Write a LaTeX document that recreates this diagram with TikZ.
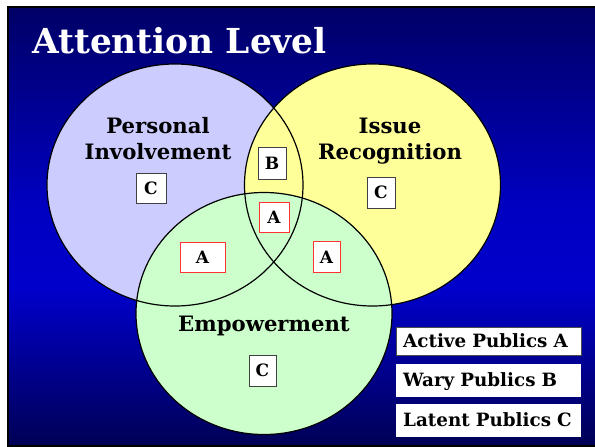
\documentclass[tikz,border=0pt]{standalone}
\usepackage{fontspec}
\setmainfont{DejaVu Serif}
\usetikzlibrary{shapes.geometric}

\definecolor{navytop}{HTML}{000066}
\definecolor{navybot}{HTML}{000055}
\definecolor{slideblue}{HTML}{0000CC}
\definecolor{setP}{HTML}{CCCCFF}
\definecolor{setI}{HTML}{FFFF99}
\definecolor{setE}{HTML}{CCFFCC}
\definecolor{boxred}{HTML}{FF3333}

\pgfdeclareverticalshading{slidebg}{100bp}{color(0bp)=(navybot); color(25bp)=(navybot);
  color(43bp)=(slideblue); color(52bp)=(slideblue!95!black); color(75bp)=(navytop); color(100bp)=(navytop)}

\tikzset{
  vset/.style={ellipse, minimum width=256pt, minimum height=242pt, inner sep=0pt},
  setname/.style={font=\bfseries\fontsize{21.2}{26}\selectfont, align=center, inner sep=0pt},
  letterbox/.style={draw=black!75, fill=white, inner sep=0pt, text height=12.5pt, text depth=0pt,
    font=\bfseries\fontsize{17}{17}\selectfont},
  activebox/.style={letterbox, draw=boxred},
  legendbox/.style={fill=white, anchor=west, inner xsep=7pt, text width=171pt, align=left,
    text height=12.5pt, text depth=0pt, font=\bfseries\fontsize{18.3}{19}\selectfont}
}

\begin{document}
\begin{tikzpicture}
    \def\x{1pt}
    \def\y{-1pt}
    \useasboundingbox [fill=white] (0*\x, 0*\y) rectangle (595*\x, 447*\y);
    \shadedraw [shading=slidebg, draw=black, line width=2pt] (8*\x, 7*\y) rectangle (597*\x, 446*\y);
    \node [anchor=base west, inner sep=0pt, text=white, font=\bfseries\fontsize{34.4}{38}\selectfont]
      (T0_0) at (32*\x, 53*\y) {Attention Level};
    % the three sets
    \node [vset, fill=setP] (S0_0) at (175*\x, 185*\y) {};
    \node [vset, fill=setI] (S0_2) at (372.5*\x, 185*\y) {};
    \node [vset, fill=setE] (S1_1) at (264*\x, 313.5*\y) {};
    \draw [line width=1.2pt] (S0_0.center) ellipse [x radius=128pt, y radius=121pt];
    \draw [line width=1.2pt] (S0_2.center) ellipse [x radius=128pt, y radius=121pt];
    \draw [line width=1.2pt] (S1_1.center) ellipse [x radius=128pt, y radius=121pt];
    \node [setname, anchor=north] (N0_0) at (158*\x, 117.5*\y) {Personal\\Involvement};
    \node [setname, anchor=north] (N0_2) at (390*\x, 117.5*\y) {Issue\\Recognition};
    \node [setname, anchor=base] (N1_1) at (264*\x, 331*\y) {Empowerment};
    % publics in each region
    \node [letterbox, minimum width=30pt, minimum height=30pt] (C0_0) at (151*\x, 188*\y) {C};
    \node [letterbox, minimum width=28pt, minimum height=31pt] (C0_2) at (381*\x, 192.5*\y) {C};
    \node [letterbox, minimum width=27pt, minimum height=31pt] (C1_1) at (262.5*\x, 370.5*\y) {C};
    \node [letterbox, minimum width=28pt, minimum height=32pt] (B0_1) at (272*\x, 163*\y) {B};
    \node [activebox, minimum width=30pt, minimum height=30pt] (A0_1) at (274*\x, 217*\y) {A};
    \node [activebox, minimum width=45pt, minimum height=30pt] (A1_0) at (202.5*\x, 257*\y) {A};
    \node [activebox, minimum width=27pt, minimum height=31pt] (A1_2) at (326.5*\x, 257*\y) {A};
    % legend
    \node [legendbox, draw=black!70, minimum height=28pt] (L0) at (396*\x, 341*\y) {Active Publics A};
    \node [legendbox, minimum height=33pt] (L1) at (396*\x, 380.5*\y) {Wary Publics B};
    \node [legendbox, minimum height=33pt] (L2) at (396*\x, 420.5*\y) {Latent Publics C};
\end{tikzpicture}
\end{document}
